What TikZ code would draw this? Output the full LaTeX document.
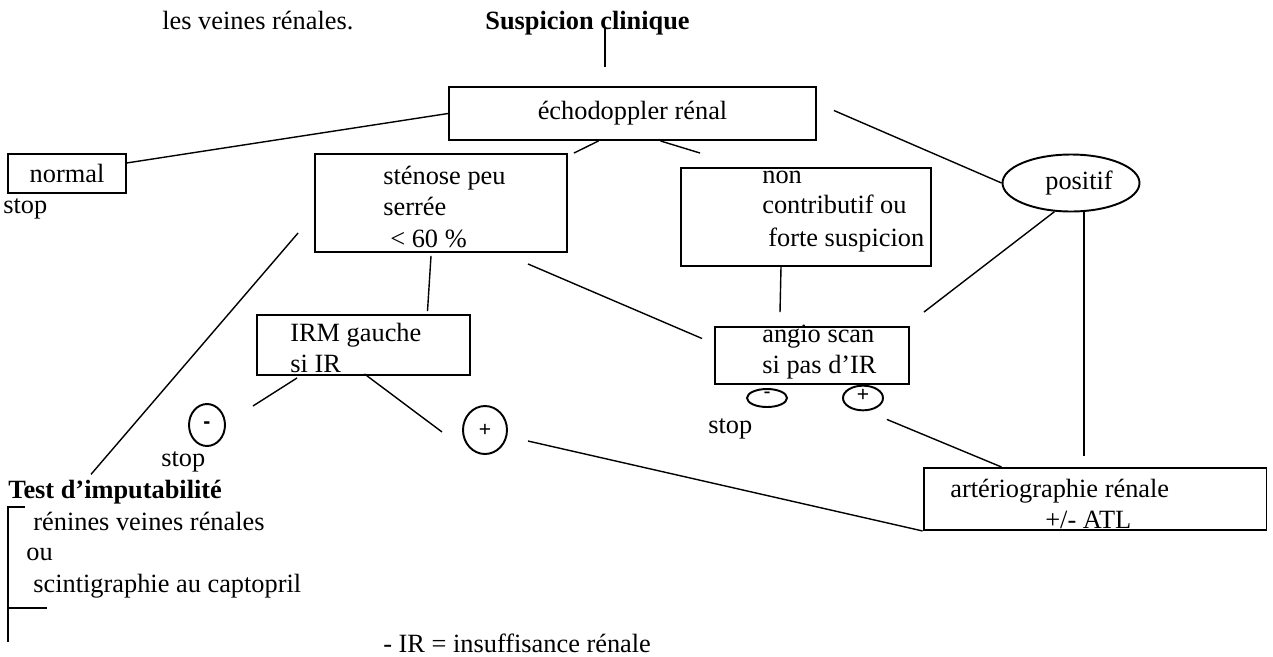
\documentclass[tikz,border=0pt]{standalone}
\usepackage{fontspec}
\setmainfont{Liberation Serif}
\newfontfamily\signfont{Liberation Sans}
\usetikzlibrary{shapes.geometric,calc}

\begin{document}
\begin{tikzpicture}[x=0.02cm,y=-0.02cm,font=\fontsize{15pt}{18pt}\selectfont,
		box/.style={draw=black,line width=1.1pt,rectangle,inner sep=0pt},
		oval/.style={draw=black,line width=1.1pt,ellipse,inner sep=0pt},
		txt/.style={anchor=base west,inner sep=0pt},
		link/.style={line width=0.8pt}]
		\useasboundingbox (0,0) rectangle (1273,656);
		% top
		\node[txt] (veines) at (162,29) {les veines rénales.};
		\node[txt,font=\fontsize{15pt}{18pt}\selectfont\bfseries] (susp) at (485,29) {Suspicion clinique};
		\node[box,minimum width=7.34cm,minimum height=1.06cm] (echo) at (632.5,113.5) {échodoppler rénal};
		\draw[link] ($(susp.base west)+(120,-1)$) -- ++(0,39);
		% first level
		\node[box,minimum width=2.36cm,minimum height=0.78cm] (normal) at (67,173.5) {normal};
		\node[txt] (stopa) at (3,213) {stop};
		\node[box,minimum width=5.04cm,minimum height=1.96cm] (steno) at (441,203) {};
		\node[txt] (stenoa) at (383,184) {sténose peu};
		\node[txt] (stenob) at (383,215) {serrée};
		\node[txt] (stenoc) at (390,247) {< 60 \%};
		\node[box,minimum width=5cm,minimum height=1.96cm] (nonc) at (806,217) {};
		\node[txt] (nonca) at (762,183) {non};
		\node[txt] (noncb) at (762,213) {contributif ou};
		\node[txt] (noncc) at (768,246) {forte suspicion};
		\node[oval,minimum width=2.74cm,minimum height=1.14cm] (pos) at (1071,183) {\hspace{0.32cm}positif};
		% second level
		\node[box,minimum width=4.26cm,minimum height=1.2cm] (irm) at (363.5,345) {};
		\node[txt] (irma) at (290,341) {IRM gauche};
		\node[txt] (irmb) at (290,372) {si IR};
		\node[box,minimum width=3.88cm,minimum height=1.14cm] (angio) at (812,355.5) {};
		\node[txt] (angioa) at (762,342) {angio scan};
		\node[txt] (angiob) at (762,373) {si pas d’IR};
		\node[oval,minimum width=0.8cm,minimum height=0.36cm,font=\signfont\fontsize{12pt}{12pt}\selectfont] (sminus) at (767,398) {\raisebox{3pt}{-}};
		\node[oval,minimum width=0.8cm,minimum height=0.36cm,font=\signfont\fontsize{12pt}{12pt}\selectfont] (splus) at (863,398) {\raisebox{3pt}{+}};
		\node[txt] (stopc) at (708,433) {stop};
		\node[oval,minimum width=0.72cm,minimum height=0.84cm,font=\signfont\bfseries\fontsize{12pt}{12pt}\selectfont] (minus) at (207,425) {-};
		\node[txt] (stopb) at (161,466) {stop};
		\node[oval,minimum width=0.88cm,minimum height=0.96cm,font=\signfont\fontsize{12pt}{12pt}\selectfont] (plus) at (485,430) {+};
		\node[box,minimum width=6.86cm,minimum height=1.24cm] (arterio) at (1095,499) {};
		\node[txt] (arterioa) at (950,497) {artériographie rénale};
		\node[txt] (arteriob) at (1045,528) {+/- ATL};
		% test
		\node[txt,font=\fontsize{15pt}{18pt}\selectfont\bfseries] (test) at (8,498) {Test d’imputabilité};
		\node[txt] (renine) at (33,530) {rénines veines rénales};
		\node[txt] (ou) at (26,560) {ou};
		\node[txt] (scinti) at (33,592) {scintigraphie au captopril};
		\draw[line width=1.2pt] (25,507) -- (8,507) -- (8,642);
		\draw[line width=1.2pt] (8,608) -- (47,608);
		\node[txt] (legend) at (383,652) {- IR = insuffisance rénale};
		% connectors
		\coordinate (vtop) at ($(pos.south)+(13,0)$);
		\coordinate (vbot) at (vtop |- arterio.north);
		\draw[link] (echo.west) -- (normal.10);
		\draw[link] ($(echo.south)+(-34,0)$) -- ($(steno.north east)+(6,0)$);
		\draw[link] ($(echo.south)+(28,0)$) -- ($(nonc.north west)+(20,-14)$);
		\draw[link] ($(echo.east)+(17,-3)$) -- (pos.west);
		\draw[link] ($(steno.south)+(-10,3)$) -- ($(irm.north)+(64,-3)$);
		\draw[link] ($(steno.south east)+(-40,11)$) -- ($(angio.west)+(-12,-17)$);
		\draw[link] ($(steno.west)+(-16,30)$) -- ($(test.north west)+(83,-5)$);
		\draw[link] ($(nonc.south)+(-25,0)$) -- ($(angio.north)+(-32,-14)$);
		\draw[link] (pos.240) -- ($(angio.north east)+(14,-14)$);
		\draw[link] (vtop) -- ($(vbot)+(0,-11)$);
		\draw[link] ($(irm.south west)+(41,2)$) -- ($(minus.east)+(27,-19)$);
		\draw[link] ($(irm.south)+(1,-2)$) -- ($(plus.west)+(-20,2)$);
		\draw[link] ($(plus.east)+(20,11)$) -- (arterio.south west);
		\draw[link] ($(splus.south east)+(9,12)$) -- ($(arterio.north west)+(79,0)$);
	\end{tikzpicture}
\end{document}
